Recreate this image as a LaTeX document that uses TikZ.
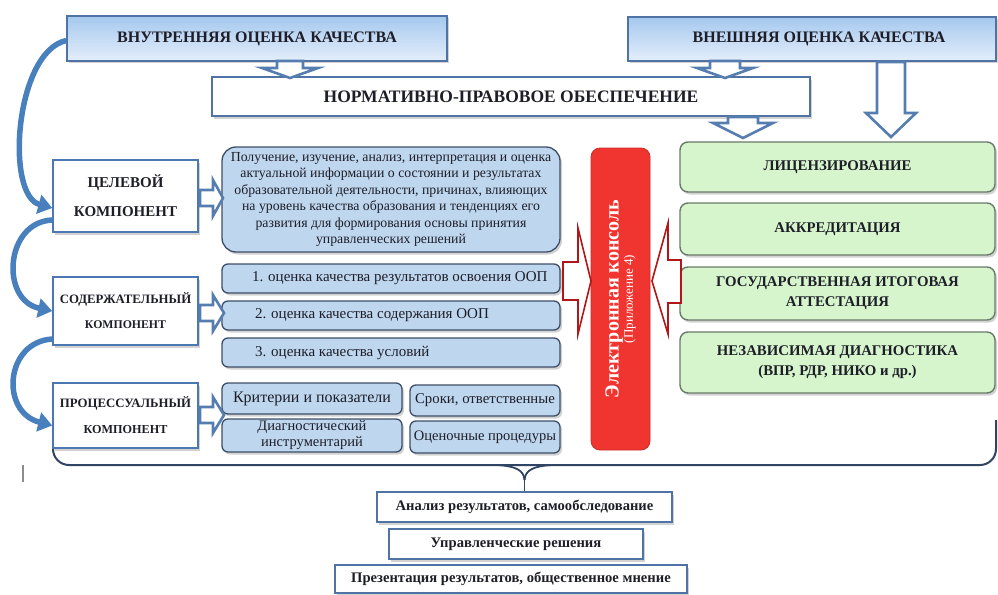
\documentclass[tikz,border=0pt]{standalone}
\usepackage{fontspec}
\setmainfont{Liberation Serif}
\usetikzlibrary{shadows,arrows.meta,calc}
\definecolor{hdrborder}{RGB}{80,115,165}
\definecolor{hdrtop}{RGB}{165,200,238}
\definecolor{hdrbot}{RGB}{228,238,251}
\definecolor{compborder}{RGB}{75,120,178}
\definecolor{contfill}{RGB}{190,214,238}
\definecolor{contborder}{RGB}{62,78,104}
\definecolor{greenfill}{RGB}{214,245,204}
\definecolor{greenborder}{RGB}{105,122,105}
\definecolor{consolered}{RGB}{240,52,48}
\definecolor{darkred}{RGB}{178,22,22}
\definecolor{framecol}{RGB}{48,68,100}
\definecolor{curveblue}{RGB}{72,128,190}
\definecolor{arrowblue}{RGB}{85,125,175}
\definecolor{txt}{RGB}{30,30,40}
\newcommand{\hollowdown}[7]{\draw[#7] ({#1-#5},#2) -- ({#1+#5},#2) -- ({#1+#5},#3) -- ({#1+#6},#3) -- (#1,#4) -- ({#1-#6},#3) -- ({#1-#5},#3) -- cycle;}
\newcommand{\hollowright}[7]{\draw[#7] (#1,{#4-#5}) -- (#2,{#4-#5}) -- (#2,{#4-#6}) -- (#3,#4) -- (#2,{#4+#6}) -- (#2,{#4+#5}) -- (#1,{#4+#5}) -- cycle;}
\begin{document}
\begin{tikzpicture}[x=1pt,y=-1pt,
  boxshadow/.style={drop shadow={shadow xshift=2pt,shadow yshift=-2.5pt,opacity=0.35}},
  hdr/.style={draw=hdrborder,line width=1.6pt,top color=hdrtop,bottom color=hdrbot,inner sep=0pt,text=txt,font=\bfseries\fontsize{16}{18}\selectfont,boxshadow},
  norm/.style={draw=hdrborder,line width=1.6pt,fill=white,inner sep=0pt,text=txt,font=\bfseries\fontsize{17.5}{20}\selectfont,boxshadow},
  comp/.style={draw=compborder,line width=1.5pt,fill=white,inner sep=0pt,text=txt,align=center,minimum width=145pt,boxshadow},
  cont/.style={draw=contborder,line width=1.3pt,fill=contfill,rounded corners=6pt,inner sep=0pt,text=txt,boxshadow},
  green/.style={draw=greenborder,line width=1.4pt,fill=greenfill,rounded corners=8pt,inner sep=0pt,text=txt,align=center,minimum width=315pt,font=\bfseries\fontsize{14.8}{20}\selectfont,boxshadow},
  bottombox/.style={draw=hdrborder,line width=1.6pt,fill=white,inner sep=0pt,text=txt,font=\bfseries\fontsize{14.6}{16}\selectfont,boxshadow},
  hollow/.style={draw=arrowblue,line width=2.6pt,fill=white,line join=miter},
  redarrow/.style={draw=darkred,line width=1.6pt,fill=white},
  curved/.style={draw=curveblue,line width=5.5pt,-{Triangle[length=14pt,width=19pt]}}
]
\useasboundingbox (0,0) rectangle (998,594);
\fill[white] (0,0) rectangle (998,594);

% frame
\draw[framecol,line width=2pt,rounded corners=16pt] (53,420) -- (53,465) -- (996,465) -- (996,420);
% brace
\coordinate (bracejoin) at (524.5,480);
\draw[framecol,line width=1.8pt] (497,465) .. controls (515,466) and (524,470) .. (bracejoin);
\draw[framecol,line width=1.8pt] (552,465) .. controls (534,466) and (525,470) .. (bracejoin);
% stray mark
\draw[black!45,line width=1.6pt] (23,465) -- (23,482);

% headers
\node[hdr,minimum width=380pt,minimum height=45pt] (inner) at (257,38.5) {ВНУТРЕННЯЯ ОЦЕНКА КАЧЕСТВА};
\node[hdr,minimum width=368pt,minimum height=44pt] (outer) at (812,39) {\hspace*{14pt}ВНЕШНЯЯ ОЦЕНКА КАЧЕСТВА};
\node[norm,minimum width=598pt,minimum height=39pt] (npo) at (511,96.5) {НОРМАТИВНО-ПРАВОВОЕ ОБЕСПЕЧЕНИЕ};

% components
\node[comp,minimum height=72pt,font=\bfseries\fontsize{15}{29}\selectfont] (cel) at (125.5,196) {ЦЕЛЕВОЙ\\КОМПОНЕНТ};
\node[comp,minimum height=68pt,font=\bfseries\fontsize{12.8}{25}\selectfont] (sod) at (125.5,311) {СОДЕРЖАТЕЛЬНЫЙ\\{\fontsize{11.8}{14}\selectfont КОМПОНЕНТ}};
\node[comp,minimum height=65pt,font=\bfseries\fontsize{12.8}{26}\selectfont] (proc) at (125.5,415.5) {ПРОЦЕССУАЛЬНЫЙ\\{\fontsize{12.2}{14}\selectfont КОМПОНЕНТ}};

% content boxes
\node[cont,rounded corners=14pt,minimum width=338pt,minimum height=105pt,align=center,font=\fontsize{13.8}{16.5}\selectfont] (big) at (391,199.5) {Получение, изучение, анализ, интерпретация и оценка\\актуальной информации о состоянии и результатах\\образовательной деятельности, причинах, влияющих\\на уровень качества образования и тенденциях его\\развития для формирования основы принятия\\управленческих решений};
\node[cont,minimum width=338pt,minimum height=29pt,font=\fontsize{15}{17}\selectfont] (item1) at (391,278.5) {\makebox[330pt][l]{\hspace*{26pt}1. оценка качества результатов освоения ООП}};
\node[cont,minimum width=338pt,minimum height=29pt,font=\fontsize{15}{17}\selectfont] (item2) at (391,315.5) {\makebox[330pt][l]{\hspace*{29pt}2. оценка качества содержания ООП}};
\node[cont,minimum width=338pt,minimum height=29pt,font=\fontsize{15}{17}\selectfont] (item3) at (391,352.5) {\makebox[330pt][l]{\hspace*{29pt}3. оценка качества условий}};
\node[cont,minimum width=180pt,minimum height=31pt,font=\fontsize{16}{17}\selectfont] (krit) at (312,398.5) {Критерии и показатели};
\node[cont,minimum width=180pt,minimum height=33pt,align=center,font=\fontsize{14.5}{16}\selectfont] (diag) at (312,435.5) {Диагностический\\инструментарий};
\node[cont,minimum width=150pt,minimum height=31pt,font=\fontsize{14.8}{16}\selectfont] (sroki) at (485,400.5) {Сроки, ответственные};
\node[cont,minimum width=150pt,minimum height=32pt,font=\fontsize{14.5}{16}\selectfont] (ocen) at (485,437) {Оценочные процедуры};

% console
\node[draw=consolered!85!black,line width=0.8pt,fill=consolered,rounded corners=9pt,rotate=90,minimum width=302pt,minimum height=59pt,inner sep=0pt,align=center,text=white] (console) at (620.5,299) {{\bfseries\fontsize{20}{21}\selectfont Электронная консоль}\\{\fontsize{13}{14}\selectfont (Приложение 4)}};

% green boxes
\node[green,minimum height=50pt] (lic) at (837.5,167) {ЛИЦЕНЗИРОВАНИЕ};
\node[green,minimum height=52pt] (akk) at (837.5,229) {АККРЕДИТАЦИЯ};
\node[green,minimum height=53pt] (gia) at (837.5,293.5) {ГОСУДАРСТВЕННАЯ ИТОГОВАЯ\\АТТЕСТАЦИЯ};
\node[green,minimum height=61pt] (nez) at (837.5,362.5) {НЕЗАВИСИМАЯ ДИАГНОСТИКА\\(ВПР, РДР, НИКО и др.)};

% bottom boxes
\node[bottombox,minimum width=295pt,minimum height=30pt] (an) at (524.5,507) {Анализ результатов, самообследование};
\node[bottombox,minimum width=254pt,minimum height=30pt] (up) at (516,544) {Управленческие решения};
\node[bottombox,minimum width=352pt,minimum height=28pt] (pr) at (511,579) {Презентация результатов, общественное мнение};
\draw[framecol,line width=1.8pt] (bracejoin) -- (an.north);

% hollow blue arrows
\hollowdown{290}{61}{68}{78}{13}{28}{hollow}
\hollowdown{725}{61}{68}{78}{15}{28}{hollow}
\hollowdown{743}{117}{123}{138}{15}{30}{hollow}
\hollowdown{891}{62}{113}{137}{14}{25}{hollow}
\hollowright{200}{213}{223}{198}{8}{18}{hollow}
\hollowright{200}{213}{224}{313}{8}{18}{hollow}
\hollowright{200}{213}{224}{415}{8}{18}{hollow}

% red arrows
\draw[redarrow] (563,262) -- (578,262) -- (578,228) -- (591,281) -- (578,334) -- (578,300) -- (563,300) -- cycle;
\draw[redarrow] (681,260) -- (668,260) -- (668,223) -- (652,281) -- (668,334) -- (668,303) -- (681,303) -- cycle;

% curved arrows
\draw[curved] ([yshift=-2pt]inner.west) .. controls (15,52) and (5,195) .. ([yshift=-12pt]cel.west);
\draw[curved] ([yshift=-24pt]cel.west) .. controls (5,222) and (0,300) .. (sod.west);
\draw[curved] ([yshift=-28pt]sod.west) .. controls (5,342) and (0,412) .. ([yshift=-10pt]proc.west);
\end{tikzpicture}
\end{document}
